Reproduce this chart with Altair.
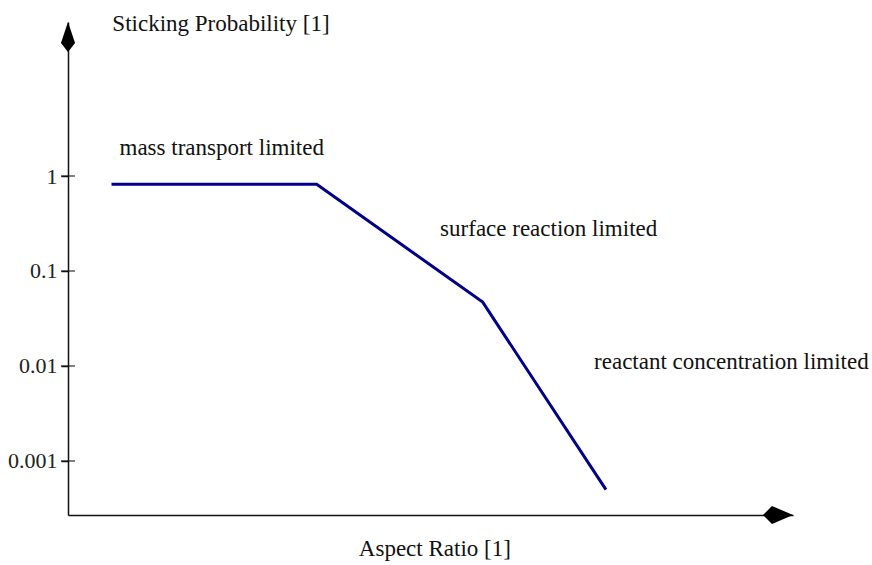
import altair as alt
import pandas as pd

# Curve (schematic)
aspect = [0.6, 3.43, 5.72, 7.42]
sticking = [0.82, 0.82, 0.047, 0.0005]

# Axis
tick_values = [1, 0.1, 0.01, 0.001]
x_domain = [0, 10]
y_domain = [0.00027, 41.8]

# Regime annotations
regime_labels = ["mass transport limited", "surface reaction limited", "reactant concentration limited"]
regime_x = [2.12, 6.63, 9.15]
regime_y = [1.97, 0.277, 0.011]

# Axis titles (placed as text)
title_labels = ["Sticking Probability [1]", "Aspect Ratio [1]"]
title_x = [2.11, 5.06]
title_y = [39.8, 0.000119]

FONT = "Liberation Serif"
FS = 23

xs = alt.Scale(domain=x_domain, nice=False, zero=False)
ys = alt.Scale(type="log", domain=y_domain, nice=False)

curve_df = pd.DataFrame({"x": aspect, "y": sticking})
ticks_df = pd.DataFrame({"y": tick_values})
regime_df = pd.DataFrame({"label": regime_labels, "x": regime_x, "y": regime_y})
title_df = pd.DataFrame({"label": title_labels, "x": title_x, "y": title_y})
up_df = pd.DataFrame({"x": [x_domain[0]], "y": [y_domain[1]]})
right_df = pd.DataFrame({"x": [x_domain[1]], "y": [y_domain[0]]})

x_axis = alt.Axis(ticks=False, labels=False, grid=False, title=None,
                  domainColor="#111", domainWidth=1.5)
y_axis = alt.Axis(values=tick_values, format="~g", grid=False, title=None,
                  domainColor="#111", domainWidth=1.5,
                  tickColor="#111", tickWidth=1.5, tickSize=7, labelPadding=4,
                  labelFont=FONT, labelFontSize=22, labelColor="#222")

curve = alt.Chart(curve_df).mark_line(color="#00008b", strokeWidth=3).encode(
    x=alt.X("x:Q", scale=xs, axis=x_axis),
    y=alt.Y("y:Q", scale=ys, axis=y_axis),
)

ticks = alt.Chart(ticks_df).mark_tick(color="#111", thickness=1.5, size=14).encode(
    x=alt.value(0),
    y=alt.Y("y:Q", scale=ys),
)

regimes = alt.Chart(regime_df).mark_text(font=FONT, fontSize=FS, color="#111", align="center", baseline="middle").encode(
    x=alt.X("x:Q", scale=xs),
    y=alt.Y("y:Q", scale=ys),
    text="label:N",
)

titles = alt.Chart(title_df).mark_text(font=FONT, fontSize=FS, color="#111", align="center", baseline="middle").encode(
    x=alt.X("x:Q", scale=xs),
    y=alt.Y("y:Q", scale=ys),
    text="label:N",
)

up_arrow = alt.Chart(up_df).mark_point(
    shape="M0,0 L0.47,1.4 L0,2 L-0.47,1.4 Z", size=900, filled=True, color="#000", opacity=1
).encode(x=alt.X("x:Q", scale=xs), y=alt.Y("y:Q", scale=ys))

right_arrow = alt.Chart(right_df).mark_point(
    shape="M0,0 L-1.4,-0.6 L-2,0 L-1.4,0.6 Z", size=900, filled=True, color="#000", opacity=1
).encode(x=alt.X("x:Q", scale=xs), y=alt.Y("y:Q", scale=ys))

chart = alt.layer(curve, ticks, regimes, titles, up_arrow, right_arrow).properties(
    width=725, height=493,
    autosize=alt.AutoSizeParams(type="none"),
    padding={"left": 68, "top": 22, "right": 79, "bottom": 50},
    background="white",
).configure_view(stroke=None)

chart.save("out.html", embed_options={"renderer": "svg", "actions": False})
